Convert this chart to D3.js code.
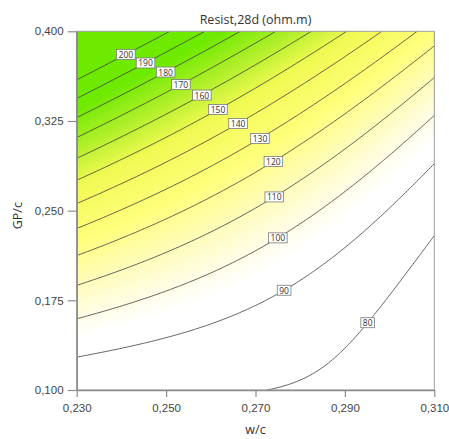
<!DOCTYPE html>
<html>
<head>
<meta charset="utf-8">
<script src="https://cdn.jsdelivr.net/npm/d3@7"></script>
<style>
  body { margin: 0; background: #fff; }
  svg { font-family: "Open Sans", "Noto Sans", sans-serif; }
</style>
</head>
<body>
<div id="chart"></div>
<script>
// axis ranges + ticks
var wcRange = [0.23, 0.31]
var gpRange = [0.10, 0.40]
var wcTicks = [0.23, 0.25, 0.27, 0.29, 0.31]
var gpTicks = [0.100, 0.175, 0.250, 0.325, 0.400]

// contour levels drawn
var levels = [80, 90, 100, 110, 120, 130, 140, 150, 160, 170, 180, 190, 200]

// where the contours cut the frame
var leftLevels = [200, 190, 180, 170, 160, 150, 140, 130, 120, 110, 100, 90]     // at w/c = 0.230
var leftGp = [0.3584, 0.3434, 0.3275, 0.3108, 0.2940, 0.2748, 0.2556, 0.2347, 0.2121, 0.1870, 0.1602, 0.1293]
var topLevels = [200, 190, 180, 170, 160, 150, 140, 130]                          // at GP/c = 0.400
var topWc = [0.2522, 0.2598, 0.2672, 0.2750, 0.2829, 0.2907, 0.2983, 0.3057]
var rightLevels = [120, 110, 100, 90, 80]                                         // at w/c = 0.310
var rightGp = [0.3902, 0.3609, 0.3283, 0.2865, 0.2263]
var bottomLevels = [80]                                                           // at GP/c = 0.100
var bottomWc = [0.2751]

// contour label centres
var labelLevels = [200, 190, 180, 170, 160, 150, 140, 130, 120, 110, 100, 90, 80]
var labelWc = [0.2410, 0.2454, 0.2499, 0.2533, 0.2580, 0.2616, 0.2661, 0.2710, 0.2740, 0.2742, 0.2750, 0.2764, 0.2951]
var labelGp = [0.3835, 0.3757, 0.3676, 0.3574, 0.3476, 0.3367, 0.3233, 0.3116, 0.2915, 0.2628, 0.2302, 0.1884, 0.1594]

// more points
var traceLevels = [90, 90, 100, 100, 110, 120, 80, 80, 80]
var traceWc = [0.2632, 0.2979, 0.2632, 0.2822, 0.2632, 0.2515, 0.2826, 0.2885, 0.3020]
var traceGp = [0.1602, 0.2422, 0.2031, 0.2422, 0.2347, 0.2422, 0.1140, 0.1307, 0.1920]

// fill colours (value -> colour)
var colorStops = [95, 108, 125, 148, 165, 185]
var colorList = ['#ffffff', '#fffcc4', '#ffff7c', '#f0fa52', '#b0ef2a', '#6eea00']

var width = 449, height = 439
var margin = {top: 31.3, right: 14.7, bottom: 49, left: 76.7}
var plotW = width - margin.left - margin.right
var plotH = height - margin.top - margin.bottom

var x = d3.scaleLinear().domain(wcRange).range([margin.left, margin.left + plotW])
var y = d3.scaleLinear().domain(gpRange).range([margin.top + plotH, margin.top])
var color = d3.scaleLinear().domain(colorStops).range(colorList).clamp(true)

// coded factors, -1..1 like the design software
var codeA = d3.scaleLinear().domain(wcRange).range([-1, 1])
var codeB = d3.scaleLinear().domain(gpRange).range([-1, 1])
function basis(A, B) {
  return [1, A, B, A * B, A * A, B * B, A * A * B, A * B * B, A * A * A, B * B * B]
}

// collect every read point, fit ln(resist) with a cubic surface (least squares)
// the lone 80 crossing on the bottom edge gets more weight, it pins that line down
var pts = []
leftLevels.forEach((v, i) => pts.push([wcRange[0], leftGp[i], v, 1]))
topLevels.forEach((v, i) => pts.push([topWc[i], gpRange[1], v, 1]))
rightLevels.forEach((v, i) => pts.push([wcRange[1], rightGp[i], v, 1]))
bottomLevels.forEach((v, i) => pts.push([bottomWc[i], gpRange[0], v, 6]))
labelLevels.forEach((v, i) => pts.push([labelWc[i], labelGp[i], v, 1]))
traceLevels.forEach((v, i) => pts.push([traceWc[i], traceGp[i], v, v == 80 ? 3 : 1]))

function fitSurface(points) {
  var m = basis(0, 0).length
  var M = d3.range(m).map(() => new Array(m + 1).fill(0))
  points.forEach(p => {
    var f = basis(codeA(p[0]), codeB(p[1])), w = p[3], z = Math.log(p[2])
    for (var i = 0; i < m; i++) {
      for (var j = 0; j < m; j++) M[i][j] += w * f[i] * f[j]
      M[i][m] += w * f[i] * z
    }
  })
  for (var c = 0; c < m; c++) { // gauss-jordan
    var piv = c
    for (var r = c + 1; r < m; r++) if (Math.abs(M[r][c]) > Math.abs(M[piv][c])) piv = r
    var tmp = M[c]; M[c] = M[piv]; M[piv] = tmp
    for (var r = 0; r < m; r++) {
      if (r === c) continue
      var k = M[r][c] / M[c][c]
      for (var j = c; j <= m; j++) M[r][j] -= k * M[c][j]
    }
  }
  return M.map((row, i) => row[m] / row[i])
}
var coefs = fitSurface(pts)

function resist(wc, gp) {
  var f = basis(codeA(wc), codeB(gp))
  return Math.exp(d3.sum(f, (t, i) => t * coefs[i]))
}

var svg = d3.select('#chart').append('svg')
  .attr('width', width)
  .attr('height', height)

// colour fill, drawn on a canvas and dropped in as an image
var cw = Math.round(plotW), ch = Math.round(plotH)
var canvas = document.createElement('canvas')
canvas.width = cw
canvas.height = ch
var ctx = canvas.getContext('2d')
var img = ctx.createImageData(cw, ch)
for (var j = 0; j < ch; j++) {
  for (var i = 0; i < cw; i++) {
    var c = d3.rgb(color(resist(x.invert(margin.left + i + 0.5), y.invert(margin.top + j + 0.5))))
    var p = (j * cw + i) * 4
    img.data[p] = c.r; img.data[p + 1] = c.g; img.data[p + 2] = c.b; img.data[p + 3] = 255
  }
}
ctx.putImageData(img, 0, 0)

svg.append('image')
  .attr('x', margin.left)
  .attr('y', margin.top)
  .attr('width', plotW)
  .attr('height', plotH)
  .attr('preserveAspectRatio', 'none')
  .attr('href', canvas.toDataURL())

svg.append('clipPath').attr('id', 'clip')
  .append('rect')
  .attr('x', margin.left).attr('y', margin.top)
  .attr('width', plotW).attr('height', plotH)

// contour lines
var n = 201
var grid = new Array(n * n)
for (var r = 0; r < n; r++) {
  for (var q = 0; q < n; q++) {
    grid[r * n + q] = resist(
      wcRange[0] + q * (wcRange[1] - wcRange[0]) / (n - 1),
      gpRange[1] - r * (gpRange[1] - gpRange[0]) / (n - 1))
  }
}
var contours = d3.contours().size([n, n]).thresholds(levels)(grid)
var toPx = d3.geoTransform({
  point: function(px, py) {
    this.stream.point(margin.left + (px - 0.5) * plotW / (n - 1), margin.top + (py - 0.5) * plotH / (n - 1))
  }
})
svg.append('g')
  .attr('clip-path', 'url(#clip)')
  .selectAll('path')
  .data(contours)
  .join('path')
  .attr('d', d3.geoPath(toPx))
  .attr('fill', 'none')
  .attr('stroke', '#3a3a3a')
  .attr('stroke-width', 0.8)

// frame
svg.append('rect')
  .attr('x', margin.left).attr('y', margin.top)
  .attr('width', plotW).attr('height', plotH)
  .attr('fill', 'none')
  .attr('stroke', '#a0a0a0')
  .attr('stroke-width', 1)

// axes
var fmt = d => d3.format('.3f')(d).replace('.', ',')
var xAxis = svg.append('g')
  .attr('transform', `translate(0,${margin.top + plotH})`)
  .call(d3.axisBottom(x).tickValues(wcTicks).tickSize(7).tickSizeOuter(0).tickFormat(fmt))
var yAxis = svg.append('g')
  .attr('transform', `translate(${margin.left},0)`)
  .call(d3.axisLeft(y).tickValues(gpTicks).tickSize(9).tickSizeOuter(0).tickFormat(fmt))

;[xAxis, yAxis].forEach(a => {
  a.select('.domain').attr('stroke', '#8c8c8c').attr('stroke-width', 1.5)
  a.selectAll('.tick line').attr('stroke', '#8c8c8c').attr('stroke-width', 1.2)
  a.selectAll('.tick text').attr('fill', '#444').style('font-size', '11.5px')
})
xAxis.selectAll('.tick text').attr('dy', '1.0em')
yAxis.selectAll('.tick text').attr('dx', '-0.1em')

// contour labels, sat on the fitted line at the label's w/c
var labels = svg.append('g')
labelLevels.forEach((lev, k) => {
  var wc = labelWc[k]
  var lo = gpRange[0], hi = gpRange[1]
  for (var it = 0; it < 40; it++) {
    var mid = (lo + hi) / 2
    if (resist(wc, mid) > lev) hi = mid
    else lo = mid
  }
  var g = labels.append('g').attr('transform', `translate(${x(wc)},${y((lo + hi) / 2)})`)
  var box = g.append('rect')
  var t = g.append('text')
    .text(lev)
    .attr('text-anchor', 'middle')
    .attr('dominant-baseline', 'central')
    .attr('fill', '#333')
    .style('font-size', '8.5px')
  var tw = t.node().getComputedTextLength()
  box.attr('x', -tw / 2 - 2).attr('y', -5)
    .attr('width', tw + 4).attr('height', 10)
    .attr('fill', '#fff')
    .attr('stroke', '#7a7a7a')
    .attr('stroke-width', 0.8)
})

// title + axis titles
svg.append('text')
  .attr('x', margin.left + plotW / 2)
  .attr('y', 24)
  .attr('text-anchor', 'middle')
  .attr('fill', '#333')
  .style('font-size', '12.5px')
  .text('Resist,28d (ohm.m)')

svg.append('text')
  .attr('x', margin.left + plotW / 2)
  .attr('y', 434)
  .attr('text-anchor', 'middle')
  .attr('fill', '#333')
  .style('font-size', '12.5px')
  .text('w/c')

svg.append('text')
  .attr('transform', `translate(22,${margin.top + plotH / 2 + 5}) rotate(-90)`)
  .attr('text-anchor', 'middle')
  .attr('fill', '#333')
  .style('font-size', '12.5px')
  .text('GP/c')
</script>
</body>
</html>
